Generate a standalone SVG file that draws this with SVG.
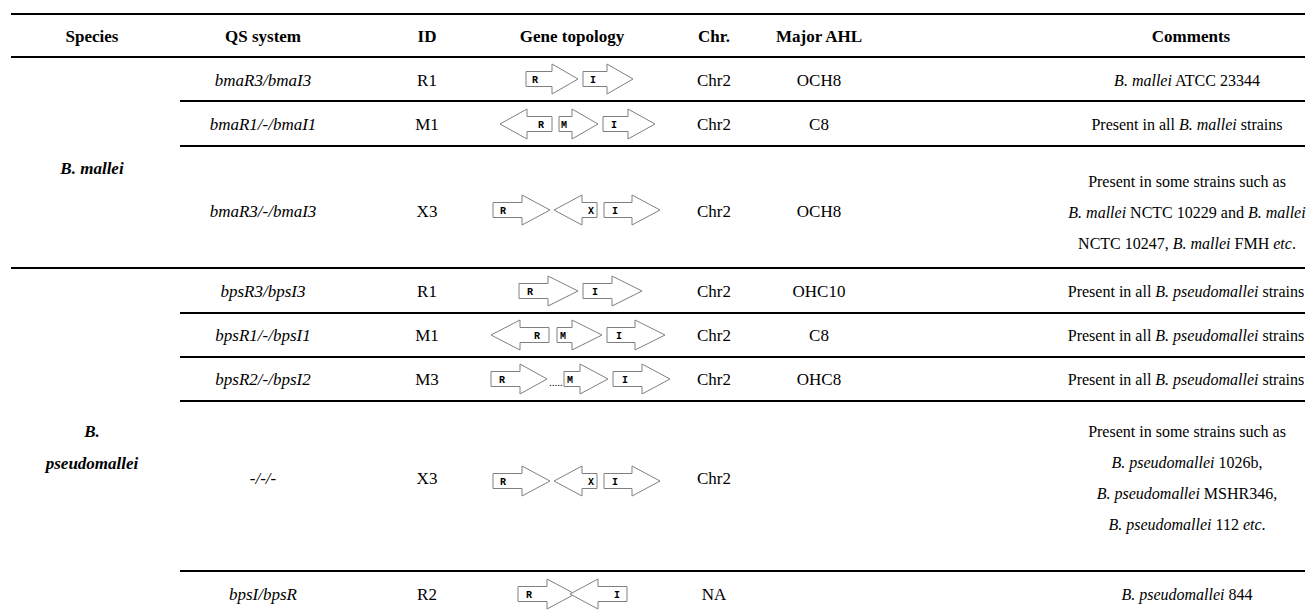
<svg xmlns="http://www.w3.org/2000/svg" width="1309" height="615" viewBox="0 0 1309 615">
<style>
.t{font-family:"Liberation Serif","Times New Roman",Times,serif;font-size:17px;fill:#000;text-anchor:middle}
.c{font-size:16px}
.h{font-weight:bold}
.i{font-style:italic}
.sp{font-weight:bold;font-style:italic}
.g{fill:#fff;stroke:#808080;stroke-width:1}
.gl{font-family:"Liberation Mono","Courier New",monospace;font-size:10px;font-weight:bold;fill:#000}
.dots{font-family:"Liberation Serif",serif;font-size:11px;fill:#000}
.rule{stroke:#000;stroke-width:2}
</style>
<rect width="1309" height="615" fill="#fff"/>
<g id="rules">
<line class="rule" x1="11" y1="14" x2="1305" y2="14" stroke-width="2.8"/>
<line class="rule" x1="11" y1="57" x2="1305" y2="57"/>
<line class="rule" x1="180" y1="101" x2="1305" y2="101"/>
<line class="rule" x1="180" y1="146" x2="1305" y2="146"/>
<line class="rule" x1="11" y1="268" x2="1305" y2="268"/>
<line class="rule" x1="180" y1="313" x2="1305" y2="313"/>
<line class="rule" x1="180" y1="357" x2="1305" y2="357"/>
<line class="rule" x1="180" y1="401" x2="1305" y2="401"/>
<line class="rule" x1="180" y1="571" x2="1305" y2="571"/>
</g>
<g id="header" class="t h">
<text x="92" y="42">Species</text>
<text x="263" y="42">QS system</text>
<text x="427" y="42">ID</text>
<text x="572" y="42">Gene topology</text>
<text x="714" y="42">Chr.</text>
<text x="819" y="42">Major AHL</text>
<text x="1191" y="42">Comments</text>
</g>
<g id="species-mallei"><text class="t sp" x="92" y="174">B. mallei</text></g>
<g id="species-pseudomallei"><text class="t sp" x="92" y="437">B.</text><text class="t sp" x="92" y="469">pseudomallei</text></g>
<g id="row1">
<text class="t i" x="263" y="86">bmaR3/bmaI3</text>
<text class="t" x="427" y="86">R1</text>
<path class="g" d="M526,71.5H552V64L578,79L552,94V86.5H526Z"/><text class="gl" x="532" y="83">R</text>
<path class="g" d="M583,71.5H607V64L633,79L607,94V86.5H583Z"/><text class="gl" x="590" y="83">I</text>
<text class="t" x="714" y="86">Chr2</text>
<text class="t" x="819" y="86">OCH8</text>
<text class="t c" x="1187" y="86"><tspan class="i">B. mallei</tspan> ATCC 23344</text>
</g>
<g id="row2">
<text class="t i" x="263" y="130">bmaR1/-/bmaI1</text>
<text class="t" x="427" y="130">M1</text>
<path class="g" d="M552,116.5H527V109L500,124L527,139V131.5H552Z"/><text class="gl" x="544" y="128" text-anchor="end">R</text>
<path class="g" d="M559,116.5H572V109L598,124L572,139V131.5H559Z"/><text class="gl" x="561" y="128">M</text>
<path class="g" d="M603,116.5H628V109L655,124L628,139V131.5H603Z"/><text class="gl" x="611" y="128">I</text>
<text class="t" x="714" y="130">Chr2</text>
<text class="t" x="819" y="130">C8</text>
<text class="t c" x="1187" y="130">Present in all <tspan class="i">B. mallei</tspan> strains</text>
</g>
<g id="row3">
<text class="t i" x="263" y="217">bmaR3/-/bmaI3</text>
<text class="t" x="427" y="217">X3</text>
<path class="g" d="M493,202.5H522V195L550,210L522,225V217.5H493Z"/><text class="gl" x="500" y="214">R</text>
<path class="g" d="M597,202.5H582V195L554,210L582,225V217.5H597Z"/><text class="gl" x="594" y="214" text-anchor="end">X</text>
<path class="g" d="M604,202.5H632V195L660,210L632,225V217.5H604Z"/><text class="gl" x="612" y="214">I</text>
<text class="t" x="714" y="217">Chr2</text>
<text class="t" x="819" y="217">OCH8</text>
<text class="t c" x="1187" y="187">Present in some strains such as</text>
<text class="t c" x="1187" y="218"><tspan class="i">B. mallei</tspan> NCTC 10229 and <tspan class="i">B. mallei</tspan></text>
<text class="t c" x="1187" y="249">NCTC 10247, <tspan class="i">B. mallei</tspan> FMH <tspan class="i">etc</tspan>.</text>
</g>
<g id="row4">
<text class="t i" x="263" y="297">bpsR3/bpsI3</text>
<text class="t" x="427" y="297">R1</text>
<path class="g" d="M519,283.5H548V276L578,291L548,306V298.5H519Z"/><text class="gl" x="527" y="295">R</text>
<path class="g" d="M583,283.5H612V276L642,291L612,306V298.5H583Z"/><text class="gl" x="592" y="295">I</text>
<text class="t" x="714" y="297">Chr2</text>
<text class="t" x="819" y="297">OHC10</text>
<text class="t c" x="1186" y="297">Present in all <tspan class="i">B. pseudomallei</tspan> strains</text>
</g>
<g id="row5">
<text class="t i" x="263" y="341">bpsR1/-/bpsI1</text>
<text class="t" x="427" y="341">M1</text>
<path class="g" d="M549,327.5H520V320L491,335L520,350V342.5H549Z"/><text class="gl" x="540" y="339" text-anchor="end">R</text>
<path class="g" d="M557,327.5H572V320L602,335L572,350V342.5H557Z"/><text class="gl" x="560" y="339">M</text>
<path class="g" d="M607,327.5H635V320L665,335L635,350V342.5H607Z"/><text class="gl" x="616" y="339">I</text>
<text class="t" x="714" y="341">Chr2</text>
<text class="t" x="819" y="341">C8</text>
<text class="t c" x="1186" y="341">Present in all <tspan class="i">B. pseudomallei</tspan> strains</text>
</g>
<g id="row6">
<text class="t i" x="263" y="385">bpsR2/-/bpsI2</text>
<text class="t" x="427" y="385">M3</text>
<path class="g" d="M491,371.5H520V364L547,379L520,394V386.5H491Z"/><text class="gl" x="499" y="383">R</text>
<text class="dots" x="549" y="386">.....</text>
<path class="g" d="M564,371.5H580V364L608,379L580,394V386.5H564Z"/><text class="gl" x="567" y="383">M</text>
<path class="g" d="M613,371.5H642V364L670,379L642,394V386.5H613Z"/><text class="gl" x="622" y="383">I</text>
<text class="t" x="714" y="385">Chr2</text>
<text class="t" x="819" y="385">OHC8</text>
<text class="t c" x="1186" y="385">Present in all <tspan class="i">B. pseudomallei</tspan> strains</text>
</g>
<g id="row7">
<text class="t i" x="263" y="484">-/-/-</text>
<text class="t" x="427" y="484">X3</text>
<path class="g" d="M493,473.5H522V466L550,481L522,496V488.5H493Z"/><text class="gl" x="500" y="485">R</text>
<path class="g" d="M597,473.5H582V466L554,481L582,496V488.5H597Z"/><text class="gl" x="594" y="485" text-anchor="end">X</text>
<path class="g" d="M604,473.5H632V466L660,481L632,496V488.5H604Z"/><text class="gl" x="612" y="485">I</text>
<text class="t" x="714" y="484">Chr2</text>
<text class="t c" x="1187" y="437">Present in some strains such as</text>
<text class="t c" x="1187" y="468"><tspan class="i">B. pseudomallei</tspan> 1026b,</text>
<text class="t c" x="1187" y="499"><tspan class="i">B. pseudomallei</tspan> MSHR346,</text>
<text class="t c" x="1187" y="530"><tspan class="i">B. pseudomallei</tspan> 112 <tspan class="i">etc</tspan>.</text>
</g>
<g id="row8">
<text class="t i" x="263" y="600">bpsI/bpsR</text>
<text class="t" x="427" y="600">R2</text>
<path class="g" d="M518,586.5H547V579L575,594L547,609V601.5H518Z"/><text class="gl" x="526" y="598">R</text>
<path class="g" d="M627,586.5H598V579L570,594L598,609V601.5H627Z"/><text class="gl" x="620" y="598" text-anchor="end">I</text>
<text class="t" x="714" y="600">NA</text>
<text class="t c" x="1187" y="600"><tspan class="i">B. pseudomallei</tspan> 844</text>
</g>
</svg>
